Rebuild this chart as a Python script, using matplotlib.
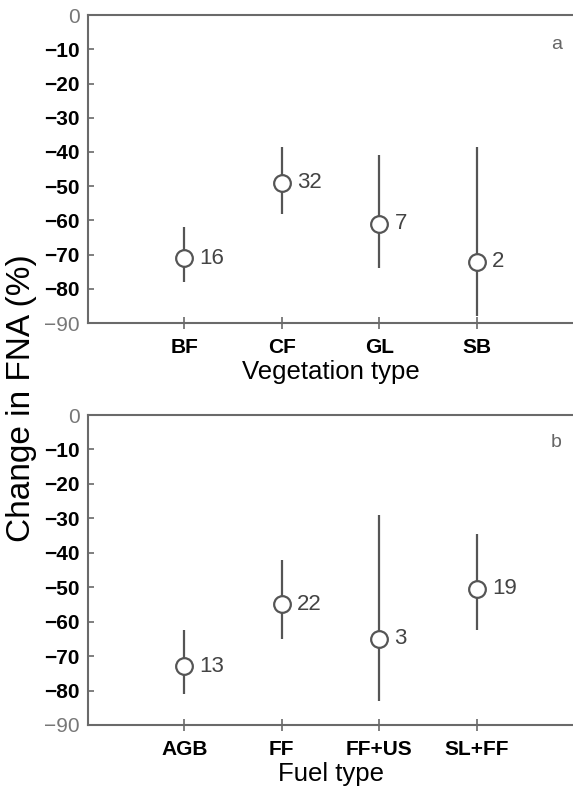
import numpy as np
import matplotlib
matplotlib.use('Agg')
import matplotlib.pyplot as plt

plt.rcParams['font.family'] = ['Liberation Sans', 'DejaVu Sans']

# -------------------------------
# data
# -------------------------------
veg_types = ['BF', 'CF', 'GL', 'SB']
veg_mean = [-71, -49, -61, -72]
veg_upper = [-62, -38.5, -41, -38.5]
veg_lower = [-78, -58, -74, -88]
veg_n = [16, 32, 7, 2]

fuel_types = ['AGB', 'FF', 'FF+US', 'SL+FF']
fuel_mean = [-73, -55, -65, -50.5]
fuel_upper = [-62.5, -42, -29, -34.5]
fuel_lower = [-81, -65, -83, -62.5]
fuel_n = [13, 22, 3, 19]

yticks = [0, -10, -20, -30, -40, -50, -60, -70, -80, -90]

line_col = '#555555'
spine_col = '#6a6a6a'


def draw_panel(ax, cats, mean, upper, lower, n, xlabel, letter, letter_y):
    x = np.arange(len(cats))
    ax.vlines(x, lower, upper, color=line_col, lw=1.6, zorder=2)
    ax.plot(x, mean, 'o', ms=12, mfc='white', mec=line_col, mew=1.6, zorder=3)
    for xi, yi, ni in zip(x, mean, n):
        ax.annotate(str(ni), (xi, yi), xytext=(11, 0), textcoords='offset points',
                    ha='left', va='center', fontsize=16, color='#444444')

    ax.set_xlim(-0.99, 3.99)
    ax.set_ylim(-90, 0)
    ax.set_xticks(x)
    ax.set_xticklabels(cats, fontsize=15, fontweight='bold')
    ax.set_yticks(yticks)
    labels = ['%d' % v if v == 0 else '\u2212%d' % -v for v in yticks]
    ax.set_yticklabels(labels, fontsize=15, fontweight='bold')
    for t, v in zip(ax.get_yticklabels(), yticks):
        if v in (0, -90):
            t.set_fontweight('normal')
            t.set_color('#777777')
    ax.tick_params(axis='y', direction='in', length=4, width=1.2, color=spine_col, pad=6)
    ax.tick_params(axis='x', direction='inout', length=8, width=1.2, color=spine_col, pad=7)
    ax.set_xlabel(xlabel, fontsize=18.5, labelpad=2)

    ax.spines['right'].set_visible(False)
    for s in ['left', 'top', 'bottom']:
        ax.spines[s].set_color(spine_col)
        ax.spines[s].set_linewidth(1.5)

    ax.text(0.966, letter_y, letter, transform=ax.transAxes, fontsize=14,
            color='#666666', ha='center', va='center')


fig = plt.figure(figsize=(5.73, 7.92), dpi=100)
ax1 = fig.add_axes([0.1536, 0.592, 0.8464, 0.389])
ax2 = fig.add_axes([0.1536, 0.0846, 0.8464, 0.3914])

draw_panel(ax1, veg_types, veg_mean, veg_upper, veg_lower, veg_n, 'Vegetation type', 'a', 0.903)
draw_panel(ax2, fuel_types, fuel_mean, fuel_upper, fuel_lower, fuel_n, 'Fuel type', 'b', 0.91)

fig.text(0.038, 0.497, 'Change in FNA (%)', rotation=90, fontsize=24,
         ha='center', va='center')

fig.savefig('out.png', dpi=100)
